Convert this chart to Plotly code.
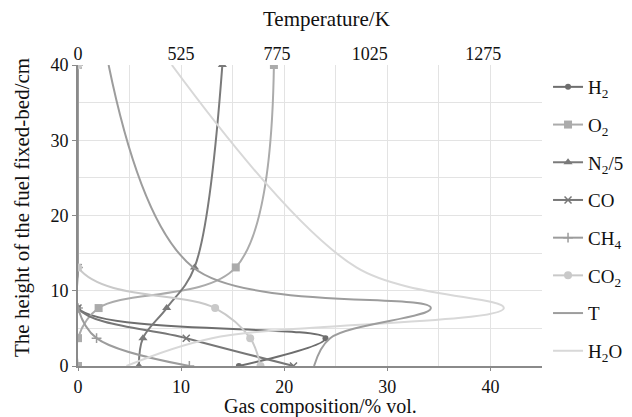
import plotly.graph_objects as go

# ---- data ----
heights = [0, 3.7, 7.7, 13.1, 40]          # cm
h2 = [15.6, 24.0, 0, 0, 0]
o2 = [0, 0, 2.0, 15.3, 19.0]
n2_5 = [5.9, 6.3, 8.6, 11.3, 14.0]
co = [20.9, 10.5, 0, 0, 0]
ch4 = [10.8, 1.8, 0, 0, 0]
co2 = [17.7, 16.7, 13.3, 0, 0]
temp_k = [855, 895, 1145, 555, 345]
h2o = [4.7, 13.0, 41.3, 27.0, 9.1]

gas_ticks = [0, 10, 20, 30, 40]
height_ticks = [0, 10, 20, 30, 40]
temp_tick_labels = ["0", "525", "775", "1025", "1275"]

FONT = "Liberation Serif"
GRID = "#e3e3e3"
AXIS = "#8a8a8a"

fig = go.Figure()

def add(name, xs, color, symbol=None, size=7, lw=2, xaxis="x", mline=0):
    mode = "lines+markers" if symbol else "lines"
    marker = None
    if symbol:
        marker = dict(symbol=symbol, size=size, color=color,
                      line=dict(width=mline, color=color))
    fig.add_trace(go.Scatter(
        x=xs, y=heights, name=name, mode=mode, xaxis=xaxis,
        line=dict(color=color, width=lw, shape="spline", smoothing=1),
        marker=marker, legendgroup=name))

add("H<sub>2</sub>", h2, "#6e6e6e", "circle", 6)
add("O<sub>2</sub>", o2, "#ababab", "square", 8)
add("N<sub>2</sub>/5", n2_5, "#7a7a7a", "triangle-up", 8)
add("CO", co, "#777777", "x-thin", 7, mline=1.5)
add("CH<sub>4</sub>", ch4, "#9c9c9c", "cross-thin", 7, mline=1.5)
add("CO<sub>2</sub>", co2, "#c9c9c9", "circle", 8)
add("T", temp_k, "#9d9d9d", None, xaxis="x2")
add("H<sub>2</sub>O", h2o, "#d8d8d8", None)

# temperature axis: linear, 25.6 K per gas-% unit, starting at 269 K
T0, KPU = 269, 25.6
t_range = [T0, T0 + 45 * KPU]
t_tick_pos = [T0 + KPU * g for g in (0, 10, 19.3, 28.3, 39.3)]

ML, MR, MT, MB = 78, 90, 65, 51
W, H = 632, 417

fig.update_layout(
    width=W, height=H,
    margin=dict(l=ML, r=MR, t=MT, b=MB, autoexpand=False),
    paper_bgcolor="white", plot_bgcolor="white",
    font=dict(family=FONT, size=19, color="#111111"),
    showlegend=True,
    legend=dict(x=1.013, y=0.99, xanchor="left", yanchor="top",
                maxheight=400,
                font=dict(family=FONT, size=19), tracegroupgap=10,
                bgcolor="rgba(0,0,0,0)"),
    xaxis=dict(range=[0, 45], tickvals=gas_ticks, showgrid=True,
               gridcolor=GRID, gridwidth=1,
               minor=dict(dtick=5, tick0=0, showgrid=True, gridcolor=GRID, gridwidth=1),
               showline=True, linecolor=AXIS, linewidth=2,
               ticks="outside", ticklen=3, tickcolor=AXIS,
               zeroline=False, tickfont=dict(family=FONT, size=18)),
    xaxis2=dict(range=t_range, overlaying="x", side="top",
                tickvals=t_tick_pos, ticktext=temp_tick_labels,
                showgrid=False, showline=False, ticks="", zeroline=False,
                tickfont=dict(family=FONT, size=18)),
    yaxis=dict(range=[0, 40], tickvals=height_ticks, showgrid=True,
               gridcolor=GRID, gridwidth=1,
               minor=dict(dtick=5, tick0=0, showgrid=True, gridcolor=GRID, gridwidth=1),
               showline=True, linecolor=AXIS, linewidth=2,
               ticks="outside", ticklen=4, tickcolor=AXIS,
               zeroline=False, tickfont=dict(family=FONT, size=18)),
)

pw, ph = W - ML - MR, H - MT - MB
def px_to_paper(px, py):
    return (px - ML) / pw, (H - MB - py) / ph

for text, (px, py), angle, fs in [
    ("Gas composition/% vol.", (320, 406), 0, 20),
    ("Temperature/K", (326, 19), 0, 21),
    ("The height of the fuel fixed-bed/cm", (22, 208), -90, 21),
]:
    ax, ay = px_to_paper(px, py)
    fig.add_annotation(text=text, x=ax, y=ay, xref="paper", yref="paper",
                       xanchor="center", yanchor="middle", textangle=angle,
                       showarrow=False, font=dict(family=FONT, size=fs))

fig.write_html("out.html")
